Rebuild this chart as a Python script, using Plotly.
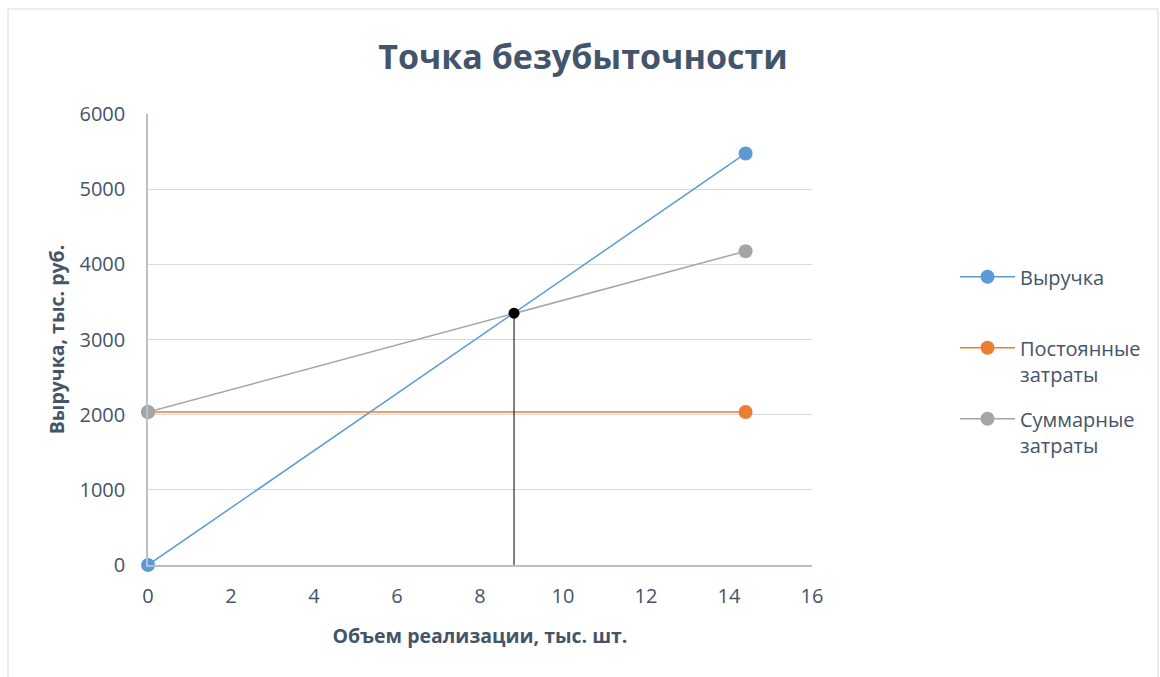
import plotly.graph_objects as go

# Data
x_vals = [0, 14.4]
revenue = [0, 5475]
fixed_costs = [2035, 2035]
total_costs = [2035, 4175]
bep_x = [8.82]
bep_y = [3350]
series_names = ["Выручка<br> ", "Постоянные<br>затраты", "Суммарные<br>затраты"]
colors = ["#5B9BD5", "#ED7D31", "#A5A5A5"]

FONT = "Open Sans"
TXT = "#44546A"

fig = go.Figure()
for name, ys, c, grp in zip(series_names, [revenue, fixed_costs, total_costs], colors, ["a", "b", "c"]):
    fig.add_trace(go.Scatter(
        x=x_vals, y=ys, mode="lines+markers", name=name, legendgroup=grp,
        line=dict(color=c, width=1.5),
        marker=dict(color=c, size=14), cliponaxis=False,
    ))

# break-even vertical line and point
fig.add_trace(go.Scatter(
    x=[bep_x[0], bep_x[0]], y=[0, bep_y[0]], mode="lines",
    line=dict(color="black", width=1), showlegend=False, hoverinfo="skip"))
fig.add_trace(go.Scatter(
    x=bep_x, y=bep_y, mode="markers", cliponaxis=False,
    marker=dict(color="black", size=11), showlegend=False))

fig.update_layout(
    width=1160, height=677,
    paper_bgcolor="white", plot_bgcolor="white",
    margin=dict(l=148, r=348, t=114, b=112),
    title=dict(text="<b>Точка безубыточности</b>", x=583 / 1160, xanchor="center",
               y=1 - 57 / 677, yanchor="middle",
               font=dict(family=FONT, size=34, color=TXT)),
    font=dict(family=FONT, color=TXT),
    xaxis=dict(range=[0, 16], dtick=2, tick0=0, showgrid=False,
               showline=True, linecolor="#B4BFCF", linewidth=1.5,
               zeroline=False, ticks="", ticklen=0, ticklabelstandoff=12,
               tickfont=dict(size=20, color=TXT),
               title=dict(text="<b>Объем реализации, тыс. шт.</b>", standoff=22,
                          font=dict(size=19.5, color=TXT))),
    yaxis=dict(range=[0, 6000], dtick=1000, tick0=0, showgrid=True,
               gridcolor="#D9D9D9", gridwidth=1,
               showline=True, linecolor="#B4BFCF", linewidth=1.5,
               zeroline=False, ticks="", ticklen=0, ticklabelstandoff=17,
               tickfont=dict(size=20, color=TXT),
               title=dict(text="<b>Выручка, тыс. руб.</b>", standoff=10,
                          font=dict(size=19.5, color=TXT))),
    legend=dict(x=(955 - 148) / 664, xanchor="left", y=0.453, yanchor="middle",
                font=dict(size=20, color=TXT), valign="top",
                traceorder="grouped", tracegroupgap=16,
                itemwidth=55, bgcolor="rgba(0,0,0,0)"),
    shapes=[dict(type="rect", xref="paper", yref="paper",
                 x0=-140 / 664, x1=(1158 - 148) / 664,
                 y0=-(677 - 565 + 5) / 451, y1=1 + (114 - 9) / 451,
                 line=dict(color="#D9D9D9", width=1), layer="below")],
)

fig.write_html("out.html")
